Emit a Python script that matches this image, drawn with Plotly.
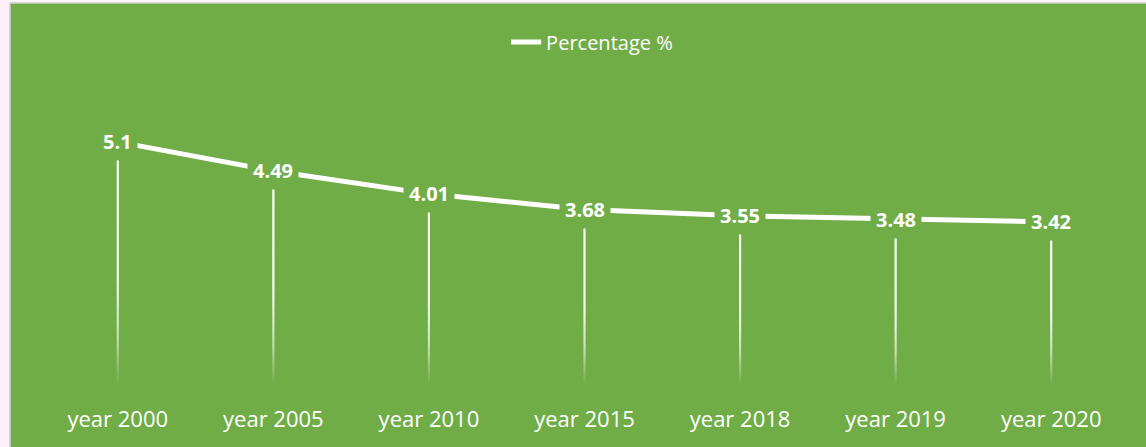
import plotly.graph_objects as go

categories = ["year 2000", "year 2005", "year 2010", "year 2015", "year 2018", "year 2019", "year 2020"]
values = [5.1, 4.49, 4.01, 3.68, 3.55, 3.48, 3.42]
series_name = "Percentage %"

GREEN = "#70AD47"
FONT = "Open Sans"
W, H = 1146, 447
ML, MR, MT, MB = 40, 17, 99, 62
PW = W - ML - MR
PH = H - MT - MB

fig = go.Figure()

# drop lines with vertical fade (thin filled polygons with gradient)
half = 1.1 * len(categories) / PW  # ~1.1px half-width in category units
for i, v in enumerate(values):
    fig.add_trace(go.Scatter(
        x=[i - half, i + half, i + half, i - half, i - half],
        y=[0, 0, v, v, 0],
        mode="lines", line=dict(width=0),
        fill="toself",
        fillgradient=dict(type="vertical",
                          colorscale=[[0, "rgba(255,255,255,0)"],
                                      [0.2, "rgba(255,255,255,0.6)"],
                                      [0.45, "rgba(255,255,255,0.95)"],
                                      [1, "rgba(255,255,255,1)"]]),
        showlegend=False, hoverinfo="skip",
    ))

fig.add_trace(go.Scatter(
    x=list(range(len(categories))), y=values, mode="lines",
    name=series_name, line=dict(color="white", width=5),
))

for i, v in enumerate(values):
    fig.add_annotation(x=i, y=v, xref="x", yref="y", text=f"<b>{v:g}</b>",
                       showarrow=False, bgcolor=GREEN, borderpad=5,
                       font=dict(family=FONT, size=20, color="white"))

# frame decorations: left light strip and top border
fig.add_shape(type="rect", xref="paper", yref="paper",
              x0=-ML / PW, x1=-(ML - 10) / PW, y0=-MB / PH, y1=(H - MB) / PH,
              fillcolor="#fdf0f9", line=dict(width=0), layer="below")
fig.add_shape(type="line", xref="paper", yref="paper",
              x0=-(ML - 10) / PW, x1=-(ML - 10) / PW, y0=-MB / PH, y1=(H - MB - 3) / PH,
              line=dict(color="#cfcfcf", width=1.5))
fig.add_shape(type="rect", xref="paper", yref="paper",
              x0=-(ML - 10) / PW, x1=(W - ML) / PW, y0=(H - MB - 3) / PH, y1=(H - MB) / PH,
              fillcolor="#f6f6f6", line=dict(width=0))
fig.add_shape(type="line", xref="paper", yref="paper",
              x0=-(ML - 10) / PW, x1=(W - ML) / PW, y0=(H - MB - 3) / PH, y1=(H - MB - 3) / PH,
              line=dict(color="#cfcfcf", width=1.5))

fig.update_layout(
    width=W, height=H,
    margin=dict(l=ML, r=MR, t=MT, b=MB),
    paper_bgcolor=GREEN, plot_bgcolor=GREEN,
    font=dict(family=FONT, color="white"),
    showlegend=True,
    legend=dict(orientation="h", x=0.507, xanchor="center", y=(H - MB - 42) / PH, yanchor="middle",
                font=dict(family=FONT, size=20, color="white"),
                bgcolor="rgba(0,0,0,0)"),
    xaxis=dict(range=[-0.5, len(categories) - 0.5], tickvals=list(range(len(categories))),
               ticktext=categories, showgrid=False, zeroline=False, showline=False,
               ticks="outside", ticklen=15, tickcolor="rgba(0,0,0,0)",
               tickfont=dict(family=FONT, size=22, color="white"), fixedrange=True),
    yaxis=dict(range=[0, 6], visible=False, fixedrange=True),
)

fig.write_html("out.html", config={"displayModeBar": False},
               post_script="document.body.style.margin='0';document.body.style.padding='0';")
